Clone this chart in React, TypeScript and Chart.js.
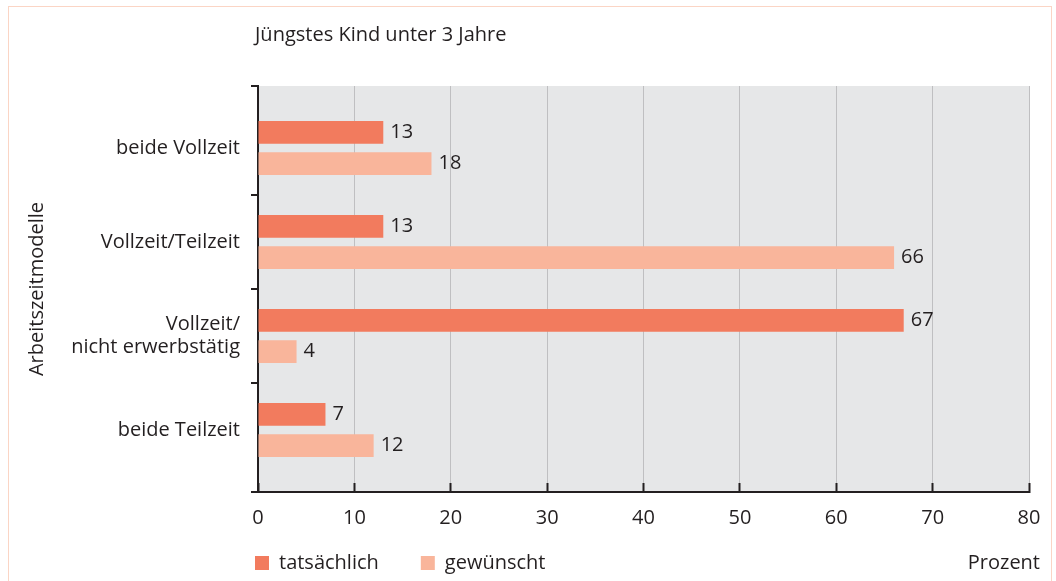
import React, { useEffect, useRef } from 'react';
import { Chart, registerables } from 'chart.js';

Chart.register(...registerables);

// ---- data ----
const TITLE = 'Jüngstes Kind unter 3 Jahre';
const Y_TITLE = 'Arbeitszeitmodelle';
const X_UNIT = 'Prozent';
const CATEGORIES: (string | string[])[] = [
  'beide Vollzeit',
  'Vollzeit/Teilzeit',
  ['Vollzeit/', 'nicht erwerbstätig'],
  'beide Teilzeit',
];
const SERIES_NAMES = ['tatsächlich', 'gewünscht'];
const ACTUAL = [13, 13, 67, 7];
const DESIRED = [18, 66, 4, 12];
const X_TICKS = [0, 10, 20, 30, 40, 50, 60, 70, 80];

export default function App() {
  const ref = useRef<HTMLCanvasElement>(null);

  useEffect(() => {
    const canvas = ref.current;
    if (!canvas) return;
    const DARK = '#231f20';
    const FONT = 'Open Sans';
    const Y_MIN = -0.66;
    const Y_MAX = 3.66;
    const LEGEND_PAD = 42;
    const catIdx = CATEGORIES.map((_, i) => i);
    const boundaries = [Y_MIN, ...catIdx.slice(1).map((i) => i - 0.5), Y_MAX];

    const plotBg = {
      id: 'plotBg',
      beforeDraw(chart: any) {
        const { ctx, chartArea: a } = chart;
        ctx.save();
        ctx.fillStyle = '#e6e7e8';
        ctx.fillRect(a.left, a.top, a.right - a.left, a.bottom - a.top);
        ctx.restore();
      },
    };

    // place the legend row: first box just left of the y axis, text row level with "Prozent"
    const legendPlace = {
      id: 'legendPlace',
      afterLayout(chart: any) {
        const lg = chart.legend;
        if (lg) {
          const dx = chart.chartArea.left - 3 - LEGEND_PAD - lg.left;
          lg.left += dx;
          lg.right += dx;
          lg.top = chart.chartArea.bottom + 71 - (LEGEND_PAD + 10);
          lg.bottom = lg.top + LEGEND_PAD + 40;
        }
        const tb = chart.titleBlock;
        if (tb) {
          tb.left -= 3;
          tb.right -= 3;
        }
      },
    };

    const valueLabels = {
      id: 'valueLabels',
      afterDatasetsDraw(chart: any) {
        const ctx = chart.ctx;
        ctx.save();
        ctx.font = `20px "${FONT}"`;
        ctx.fillStyle = DARK;
        ctx.textAlign = 'left';
        ctx.textBaseline = 'middle';
        chart.data.datasets.forEach((ds: any, di: number) => {
          const meta = chart.getDatasetMeta(di);
          meta.data.forEach((el: any, i: number) => {
            const v = ds.data[i].x;
            ctx.fillText(String(v), el.x + 7, el.y);
          });
        });
        ctx.restore();
      },
      afterDraw(chart: any) {
        const ctx = chart.ctx;
        const lg = chart.legend;
        ctx.save();
        ctx.font = `20px "${FONT}"`;
        ctx.fillStyle = DARK;
        ctx.textAlign = 'right';
        ctx.textBaseline = 'middle';
        ctx.fillText(X_UNIT, chart.chartArea.right + 11, lg.top + LEGEND_PAD + 10);
        ctx.restore();
      },
    };

    const chart = new Chart(canvas, {
      type: 'bar',
      data: {
        datasets: [
          {
            label: SERIES_NAMES[0],
            data: ACTUAL.map((v, i) => ({ x: v, y: i })),
            backgroundColor: '#f27b5e',
            categoryPercentage: 0.665,
            barPercentage: 0.725,
            xAxisID: 'x',
            yAxisID: 'y',
          },
          {
            label: SERIES_NAMES[1],
            data: DESIRED.map((v, i) => ({ x: v, y: i })),
            backgroundColor: '#f9b59b',
            categoryPercentage: 0.665,
            barPercentage: 0.725,
            xAxisID: 'x',
            yAxisID: 'y',
          },
        ] as any,
      },
      options: {
        indexAxis: 'y',
        responsive: false,
        animation: false,
        devicePixelRatio: 1,
        font: { family: FONT, size: 20 },
        color: DARK,
        layout: { padding: { left: 0, right: 27, top: 0, bottom: 0 } },
        scales: {
          x: {
            type: 'linear',
            position: 'bottom',
            min: 0,
            max: 80,
            weight: 0,
            afterBuildTicks: (s: any) => {
              s.ticks = X_TICKS.map((v) => ({ value: v }));
            },
            afterFit: (s: any) => {
              s.height = 51;
              s.paddingLeft = 0;
              s.paddingRight = 0;
            },
            grid: {
              display: true,
              drawOnChartArea: true,
              color: '#bfbfc1',
              lineWidth: 1,
              drawTicks: true,
              tickLength: -9,
              tickColor: DARK,
              tickWidth: 2,
            },
            border: { display: true, color: DARK, width: 2 },
            ticks: {
              color: DARK,
              font: { family: FONT, size: 20, lineHeight: 1.2 },
              padding: 23,
              maxRotation: 0,
              autoSkip: false,
            },
          },
          y: {
            type: 'linear',
            axis: 'y',
            position: 'left',
            reverse: true,
            offset: false,
            min: Y_MIN,
            max: Y_MAX,
            bounds: 'data',
            weight: 0,
            z: 1,
            afterBuildTicks: (s: any) => {
              s.ticks = boundaries.map((v) => ({ value: v }));
            },
            afterFit: (s: any) => {
              s.width = 7;
              s.paddingTop = 0;
              s.paddingBottom = 0;
            },
            grid: {
              display: true,
              offset: false,
              drawOnChartArea: false,
              drawTicks: true,
              tickLength: 7,
              tickColor: DARK,
              tickWidth: 2,
              color: DARK,
              lineWidth: 2,
            },
            border: { display: true, color: DARK, width: 2 },
            ticks: { display: false },
          },
          yl: {
            type: 'linear',
            axis: 'y',
            position: 'left',
            reverse: true,
            offset: false,
            min: Y_MIN,
            max: Y_MAX,
            bounds: 'data',
            weight: 1,
            afterBuildTicks: (s: any) => {
              s.ticks = catIdx.map((v) => ({ value: v }));
            },
            afterFit: (s: any) => {
              s.width = 251;
              s.paddingTop = 0;
              s.paddingBottom = 0;
            },
            grid: { display: false, offset: false, drawTicks: false, tickLength: 0 },
            border: { display: false },
            ticks: {
              display: true,
              autoSkip: false,
              color: DARK,
              padding: 11,
              font: { family: FONT, size: 20, lineHeight: 1.15 },
              callback: (value: any) => CATEGORIES[Math.round(Number(value))],
            },
            title: {
              display: true,
              text: Y_TITLE,
              color: DARK,
              font: { family: FONT, size: 20, weight: 'normal', lineHeight: 1.2 },
              padding: { top: 25, bottom: 0 },
            },
          },
        },
        plugins: {
          title: {
            display: true,
            text: TITLE,
            align: 'start',
            fullSize: false,
            color: DARK,
            font: { family: FONT, size: 20, weight: 'normal', lineHeight: 1.2 },
            padding: { top: 23, bottom: 39 },
          },
          legend: {
            display: true,
            position: 'bottom',
            align: 'start',
            fullSize: true,
            maxHeight: 40,
            labels: {
              boxWidth: 14,
              boxHeight: 14,
              padding: LEGEND_PAD,
              color: DARK,
              font: { family: FONT, size: 20 },
            },
          },
          tooltip: { enabled: false },
        },
      } as any,
      plugins: [plotBg, legendPlace, valueLabels],
    });

    return () => chart.destroy();
  }, []);

  return (
    <div style={{ position: 'fixed', inset: 0, overflow: 'hidden', background: '#ffffff' }}>
      <div
        style={{
          position: 'absolute',
          left: 8,
          top: 6,
          width: 1042,
          height: 700,
          border: '1.5px solid #fbd5c5',
        }}
      />
      <canvas
        ref={ref}
        width={1056}
        height={583}
        style={{ position: 'absolute', left: 0, top: 0 }}
      />
    </div>
  );
}
